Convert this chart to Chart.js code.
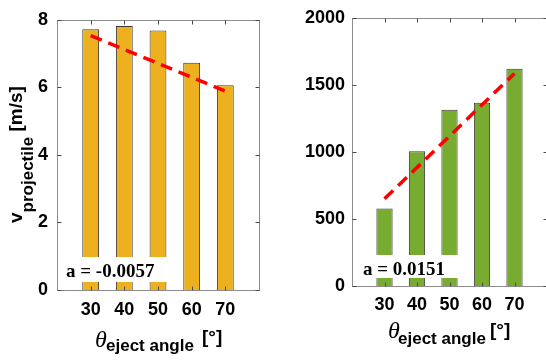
<!DOCTYPE html>
<html>
<head>
<meta charset="utf-8">
<script src="https://cdn.jsdelivr.net/npm/chart.js@4.4.0/dist/chart.umd.min.js"></script>
<style>
  html, body { margin: 0; padding: 0; background: #fff; overflow: hidden; width: 546px; height: 360px; }
  #velocityChart { position: absolute; left: 0; top: 0; }
  #forceChart { position: absolute; left: 273px; top: 0; }
</style>
</head>
<body>
<canvas id="velocityChart" width="273" height="360"></canvas>
<canvas id="forceChart" width="300" height="360"></canvas>
<script>
// --- Data ---
const angles = [30, 40, 50, 60, 70];
const velocity = [7.72, 7.82, 7.68, 6.73, 6.06];
const force = [578, 1005, 1315, 1367, 1620];

// red dashed trend lines, end points
const trendAngles = [30, 70];
const velocityTrend = [7.53, 5.89];
const forceTrend = [650, 1585];

const velocityTicks = [0, 2, 4, 6, 8];
const forceTicks = [0, 500, 1000, 1500, 2000];

const SANS = '"Liberation Sans", Arial, sans-serif';
const SERIF = '"Liberation Serif", "Times New Roman", serif';

// Box, inward ticks, slope note and the subscripted axis titles
const matlabFrame = {
    id: 'matlabFrame',
    afterDatasetsDraw(chart, args, o) {
        const { ctx, chartArea: a, scales } = chart;
        ctx.save();

        // white box behind the slope note
        ctx.fillStyle = '#fff';
        ctx.fillRect(a.left + 1, a.bottom - o.boxUp, o.boxW, o.boxH);
        ctx.fillStyle = '#000';
        ctx.font = 'bold 19px ' + SERIF;
        ctx.textBaseline = 'alphabetic';
        ctx.fillText(o.note, a.left + o.noteDx, a.bottom - o.noteUp);

        // axes box
        const L = Math.round(a.left) + 0.5, R = Math.round(a.right) + 0.5;
        const T = Math.round(a.top) + 0.5, B = Math.round(a.bottom) + 0.5;
        ctx.strokeStyle = '#8c8c8c';
        ctx.lineWidth = 1;
        ctx.strokeRect(L, T, R - L, B - T);

        // ticks pointing inward, mirrored on the opposite side
        ctx.strokeStyle = '#4a4a4a';
        ctx.beginPath();
        scales.x.ticks.forEach(t => {
            const px = Math.round(scales.x.getPixelForValue(t.value)) + 0.5;
            ctx.moveTo(px, B); ctx.lineTo(px, B - 4);
            ctx.moveTo(px, T); ctx.lineTo(px, T + 4);
        });
        scales.y.ticks.forEach(t => {
            const py = Math.round(scales.y.getPixelForValue(t.value)) + 0.5;
            ctx.moveTo(L, py); ctx.lineTo(L + 4, py);
            ctx.moveTo(R, py); ctx.lineTo(R - 4, py);
        });
        ctx.stroke();
        ctx.restore();
    },
    afterDraw(chart, args, o) {
        const ctx = chart.ctx;
        ctx.save();
        ctx.fillStyle = '#000';
        ctx.textBaseline = 'alphabetic';

        // vertical y title, pieces placed one after another along the baseline
        ctx.translate(o.yTitle.x, o.yTitle.y);
        ctx.rotate(-Math.PI / 2);
        let pos = 0;
        o.yTitle.parts.forEach(([text, font, shift]) => {
            ctx.font = font;
            ctx.fillText(text, pos, shift);
            pos += ctx.measureText(text).width;
        });
        ctx.setTransform(1, 0, 0, 1, 0, 0);

        // x title: theta with subscript and unit
        o.xTitle.forEach(([text, font, x, y]) => {
            ctx.font = font;
            ctx.fillText(text, x, y);
        });
        ctx.restore();
    }
};

const makeChart = (canvasId, values, trend, color, yTicks, yMax, pad, frameOpts) => {
    const ctx = document.getElementById(canvasId).getContext('2d');
    return new Chart(ctx, {
        type: 'bar',
        data: {
            datasets: [{
                type: 'line',
                data: trendAngles.map((x, i) => ({ x: x, y: trend[i] })),
                borderColor: '#ff0000',
                borderWidth: 3.5,
                borderDash: [12, 7],
                pointRadius: 0,
                fill: false,
                order: 0
            }, {
                data: angles.map((x, i) => ({ x: x, y: values[i] })),
                backgroundColor: color,
                borderColor: '#3a3a3a',
                borderWidth: 1,
                barPercentage: 0.5,
                categoryPercentage: 1,
                order: 1
            }]
        },
        options: {
            responsive: false,
            animation: false,
            layout: { padding: { top: pad.top, right: pad.right, left: 0, bottom: 0 } },
            plugins: {
                legend: { display: false },
                tooltip: { enabled: false },
                matlabFrame: frameOpts
            },
            scales: {
                x: {
                    type: 'linear',
                    min: 20,
                    max: 80,
                    offset: false,
                    grid: { display: false, offset: false, drawTicks: false },
                    border: { display: false },
                    afterBuildTicks: s => { s.ticks = angles.map(v => ({ value: v })); },
                    afterFit: s => { s.height = pad.xHeight; },
                    ticks: {
                        color: '#000', font: { family: SANS, size: 18, weight: 'bold' }, padding: pad.xPad,
                        callback: v => String(v)
                    }
                },
                y: {
                    min: 0,
                    max: yMax,
                    grid: { display: false, drawTicks: false },
                    border: { display: false },
                    afterBuildTicks: s => { s.ticks = yTicks.map(v => ({ value: v })); },
                    afterFit: s => { s.width = pad.yWidth; },
                    ticks: {
                        color: '#000', font: { family: SANS, size: 18, weight: 'bold' }, padding: pad.yPad,
                        callback: v => String(v)
                    }
                }
            }
        },
        plugins: [matlabFrame]
    });
};

makeChart('velocityChart', velocity, velocityTrend, '#EDB120', velocityTicks, 8,
    { top: 13, right: 14, xHeight: 70, yWidth: 57, xPad: 9, yPad: 9 },
    {
        note: 'a = -0.0057', boxUp: 33, boxH: 25, boxW: 116, noteDx: 9, noteUp: 13,
        yTitle: {
            x: 22, y: 223,
            parts: [['v', 'bold 19px ' + SANS, 0], ['projectile', 'bold 17px ' + SANS, 11], [' [m/s]', 'bold 19px ' + SANS, 0]]
        },
        xTitle: [
            ['\u03b8', 'italic 24px ' + SERIF, 95, 347],
            ['eject angle', 'bold 17px ' + SANS, 106, 351],
            ['[\u00b0]', 'bold 19px ' + SANS, 202, 343]
        ]
    });

makeChart('forceChart', force, forceTrend, '#77AC30', forceTicks, 2000,
    { top: 17, right: 26, xHeight: 74, yWidth: 79, xPad: 8, yPad: 7 },
    {
        note: 'a = 0.0151', boxUp: 31, boxH: 23, boxW: 112, noteDx: 11, noteUp: 11,
        yTitle: {
            x: 287, y: 210,
            parts: [['F', 'bold 19px ' + SANS, 0], ['axial max', 'bold 17px ' + SANS, 10], [' [N]', 'bold 19px ' + SANS, 0]]
        },
        xTitle: [
            ['\u03b8', 'italic 24px ' + SERIF, 115, 338],
            ['eject angle', 'bold 17px ' + SANS, 125, 344],
            ['[\u00b0]', 'bold 19px ' + SANS, 217, 336]
        ]
    });
</script>
</body>
</html>
